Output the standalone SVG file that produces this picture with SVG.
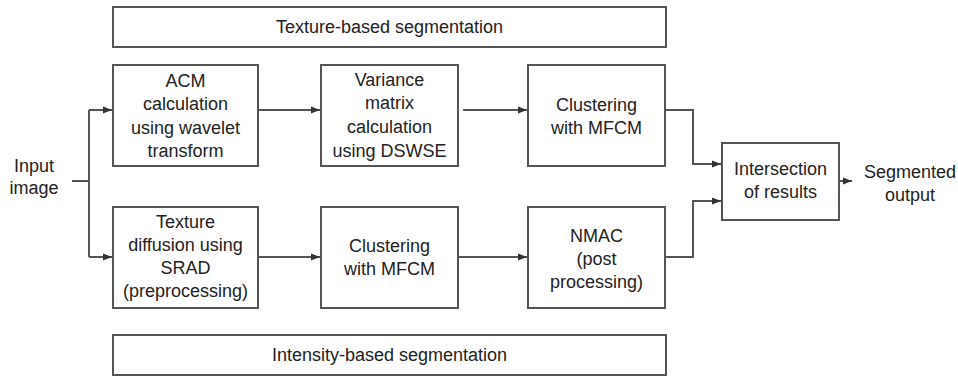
<svg xmlns="http://www.w3.org/2000/svg" width="958" height="378" viewBox="0 0 958 378">
<defs>
<marker id="arr" markerUnits="userSpaceOnUse" markerWidth="10" markerHeight="10" refX="9" refY="5" orient="auto">
<path d="M0,1.5 L9,5 L0,8.5 Z" fill="#333"/>
</marker>
<style>
.box{fill:#fff;stroke:#555;stroke-width:2}
.t{font-family:"Liberation Sans",Arial,sans-serif;font-size:18px;fill:#222;text-anchor:middle}
.c{fill:none;stroke:#555;stroke-width:2}
</style>
</defs>
<rect width="958" height="378" fill="#fff"/>
<g id="texture-banner">
<rect class="box" x="113" y="7" width="553" height="40"/>
<text class="t" x="389.5" y="33">Texture-based segmentation</text>
</g>
<g id="intensity-banner">
<rect class="box" x="113" y="335" width="553" height="40"/>
<text class="t" x="389.5" y="361">Intensity-based segmentation</text>
</g>
<g id="input">
<text class="t" x="34" y="172">Input</text>
<text class="t" x="34" y="194">image</text>
</g>
<g id="acm">
<rect class="box" x="113" y="65" width="145" height="101"/>
<text class="t" x="185.5" y="87">ACM</text>
<text class="t" x="185.5" y="110">calculation</text>
<text class="t" x="185.5" y="134">using wavelet</text>
<text class="t" x="185.5" y="157">transform</text>
</g>
<g id="variance">
<rect class="box" x="321" y="65" width="137" height="101"/>
<text class="t" x="389.5" y="86">Variance</text>
<text class="t" x="389.5" y="109">matrix</text>
<text class="t" x="389.5" y="133">calculation</text>
<text class="t" x="389.5" y="157">using DSWSE</text>
</g>
<g id="clustering-top">
<rect class="box" x="528" y="65" width="137" height="101"/>
<text class="t" x="596.5" y="111">Clustering</text>
<text class="t" x="596.5" y="134">with MFCM</text>
</g>
<g id="srad">
<rect class="box" x="113" y="207" width="145" height="101"/>
<text class="t" x="185.5" y="228">Texture</text>
<text class="t" x="185.5" y="251">diffusion using</text>
<text class="t" x="185.5" y="274">SRAD</text>
<text class="t" x="185.5" y="297">(preprocessing)</text>
</g>
<g id="clustering-bottom">
<rect class="box" x="321" y="207" width="137" height="101"/>
<text class="t" x="389.5" y="252">Clustering</text>
<text class="t" x="389.5" y="275">with MFCM</text>
</g>
<g id="nmac">
<rect class="box" x="528" y="207" width="137" height="101"/>
<text class="t" x="596.5" y="242">NMAC</text>
<text class="t" x="596.5" y="265">(post</text>
<text class="t" x="596.5" y="288">processing)</text>
</g>
<g id="intersection">
<rect class="box" x="722" y="143" width="117" height="77"/>
<text class="t" x="780.5" y="175">Intersection</text>
<text class="t" x="780.5" y="198">of results</text>
</g>
<g id="output">
<text class="t" x="910" y="178">Segmented</text>
<text class="t" x="910" y="201">output</text>
</g>
<g id="connectors">
<path class="c" d="M72,181 H89"/>
<path class="c" d="M89,110 V257"/>
<path class="c" d="M89,110 H112" marker-end="url(#arr)"/>
<path class="c" d="M89,257 H112" marker-end="url(#arr)"/>
<path class="c" d="M258,110 H320" marker-end="url(#arr)"/>
<path class="c" d="M463,110 H527" marker-end="url(#arr)"/>
<path class="c" d="M258,257 H320" marker-end="url(#arr)"/>
<path class="c" d="M458,257 H527" marker-end="url(#arr)"/>
<path class="c" d="M665,110 H693 V164 H721" marker-end="url(#arr)"/>
<path class="c" d="M665,257 H693 V201 H721" marker-end="url(#arr)"/>
<path class="c" d="M839,181 H852" marker-end="url(#arr)"/>
</g>
</svg>
